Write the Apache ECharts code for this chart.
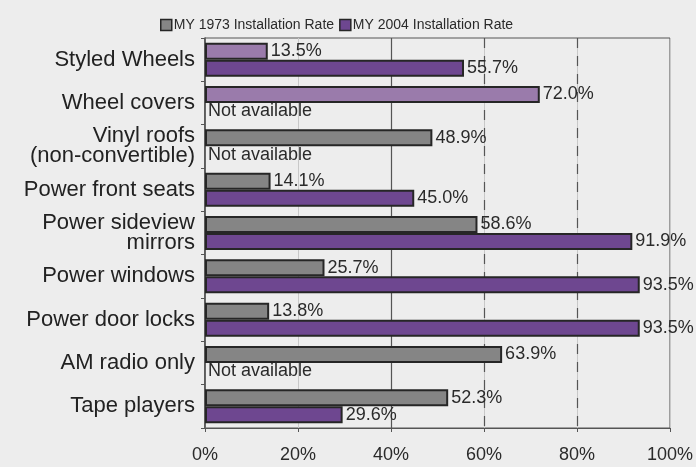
<!DOCTYPE html>
<html>
<head>
<meta charset="utf-8">
<script src="https://cdn.jsdelivr.net/npm/echarts@6/dist/echarts.min.js"></script>
<style>
  html, body { margin: 0; padding: 0; background: #ededed; }
  #chart { width: 696px; height: 467px; }
</style>
</head>
<body>
<div id="chart"></div>
<script>
// Feature installation rates, model year 1973 vs 2004 (percent; null = not available)
const categories = [
  'Styled Wheels',
  'Wheel covers',
  'Vinyl roofs\n(non-convertible)',
  'Power front seats',
  'Power sideview\nmirrors',
  'Power windows',
  'Power door locks',
  'AM radio only',
  'Tape players'
];
const rate1973 = [13.5, 72.0, 48.9, 14.1, 58.6, 25.7, 13.8, 63.9, 52.3];
const rate2004 = [55.7, null, null, 45.0, 91.9, 93.5, 93.5, null, 29.6];
const axisTicks = [0, 20, 40, 60, 80, 100];
const seriesNames = ['MY 1973 Installation Rate', 'MY 2004 Installation Rate'];

const GRAY = '#858585';
const PURPLE = '#6e4790';
const LIGHT_PURPLE = '#9a7bab';
const EDGE = '#262626';
const FONT = 'Liberation Sans, Arial, sans-serif';

// the first two wheel rows are drawn in a lighter purple
const lightRows = new Set([0, 1]);

function buildData(values, colorFor) {
  return values.map(function (v, i) {
    if (v === null) {
      return {
        value: 0,
        itemStyle: { borderWidth: 0, color: 'transparent' },
        label: { formatter: 'Not available' }
      };
    }
    return { value: v, itemStyle: { color: colorFor(i) } };
  });
}

const labelStyle = {
  show: true,
  position: 'right',
  distance: 3,
  fontFamily: FONT,
  fontSize: 18,
  color: '#2a2a2a',
  formatter: function (p) { return p.value.toFixed(1) + '%'; }
};

const chart = echarts.init(document.getElementById('chart'), null, { renderer: 'canvas' });

chart.setOption({
  backgroundColor: '#ededed',
  animation: false,
  legend: {
    top: 13,
    left: 155,
    icon: 'rect',
    itemWidth: 11,
    itemHeight: 11,
    itemGap: 5,
    data: seriesNames,
    itemStyle: { borderColor: EDGE, borderWidth: 1.5 },
    textStyle: { fontFamily: FONT, fontSize: 14, color: '#2a2a2a', padding: [0, 0, 0, -3] }
  },
  grid: {
    left: 205,
    right: 26,
    top: 38,
    bottom: 39,
    show: true,
    borderColor: '#555',
    borderWidth: 1,
    backgroundColor: 'transparent'
  },
  xAxis: {
    type: 'value',
    min: axisTicks[0],
    max: axisTicks[axisTicks.length - 1],
    interval: axisTicks[1] - axisTicks[0],
    axisLine: { show: true, lineStyle: { color: '#555', width: 1 } },
    axisTick: { show: true, length: 4, lineStyle: { color: '#555' } },
    axisLabel: {
      margin: 18,
      fontFamily: FONT,
      fontSize: 18,
      color: '#2a2a2a',
      formatter: '{value}%'
    },
    splitLine: { show: true, lineStyle: { color: '#c8c8c8', width: 1 } }
  },
  yAxis: {
    type: 'category',
    inverse: true,
    data: categories,
    axisLine: { show: true, lineStyle: { color: '#444', width: 1.5 } },
    axisTick: { show: true, length: 4, lineStyle: { color: '#555' } },
    axisLabel: {
      margin: 10,
      fontFamily: FONT,
      fontSize: 22,
      lineHeight: 20,
      color: '#222',
      align: 'right'
    }
  },
  series: [
    {
      name: seriesNames[0],
      type: 'bar',
      barWidth: 17,
      barGap: '0%',
      itemStyle: { color: GRAY, borderColor: EDGE, borderWidth: 2 },
      label: labelStyle,
      data: buildData(rate1973, function (i) { return lightRows.has(i) ? LIGHT_PURPLE : GRAY; }),
      markLine: {
        silent: true,
        symbol: 'none',
        label: { show: false },
        z: 1,
        data: [
          { xAxis: 40, lineStyle: { color: '#555', width: 1.2, type: 'solid' } },
          { xAxis: 60, lineStyle: { color: '#555', width: 1.2, type: [10, 8] } },
          { xAxis: 80, lineStyle: { color: '#555', width: 1.2, type: [10, 8] } }
        ]
      }
    },
    {
      name: seriesNames[1],
      type: 'bar',
      barWidth: 17,
      barGap: '0%',
      itemStyle: { color: PURPLE, borderColor: EDGE, borderWidth: 2 },
      label: labelStyle,
      data: buildData(rate2004, function () { return PURPLE; })
    }
  ]
});
</script>
</body>
</html>
